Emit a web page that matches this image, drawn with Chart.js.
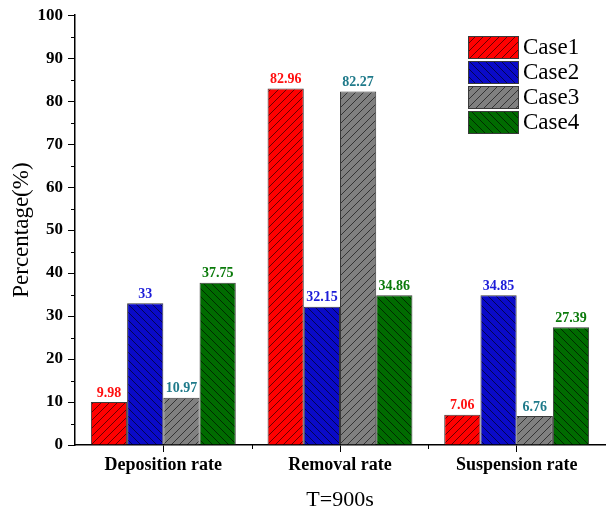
<!DOCTYPE html>
<html>
<head>
<meta charset="utf-8">
<script src="https://cdn.jsdelivr.net/npm/chart.js@4/dist/chart.umd.min.js"></script>
<style>
  html, body { margin: 0; padding: 0; background: #fff; }
  #wrap { width: 607px; height: 513px; }
</style>
</head>
<body>
<div id="wrap"><canvas id="c" width="607" height="513"></canvas></div>
<script>
// Categories, series and tick values
const categories = ['Deposition rate', 'Removal rate', 'Suspension rate'];
const seriesNames = ['Case1', 'Case2', 'Case3', 'Case4'];
const case1 = [9.98, 82.96, 7.06];
const case2 = [33, 32.15, 34.85];
const case3 = [10.97, 82.27, 6.76];
const case4 = [37.75, 34.86, 27.39];
const yTicks = [0, 10, 20, 30, 40, 50, 60, 70, 80, 90, 100];

const fillColors = ['#ff0000', '#0a0ac8', '#808080', '#006b00'];
const labelColors = ['#ff1010', '#1c1cd8', '#1f7a8a', '#0a7a0a'];
const hatchDirs = ['/', '\\', '/', '\\'];

const SERIF = "'Liberation Serif', 'Times New Roman', serif";

// Diagonal hatch fill for each series
function hatch(bg, dir) {
  const s = 8;
  const c = document.createElement('canvas');
  c.width = s; c.height = s;
  const g = c.getContext('2d');
  g.fillStyle = bg;
  g.fillRect(0, 0, s, s);
  g.strokeStyle = 'rgba(0,0,0,0.75)';
  g.lineWidth = 0.8;
  g.beginPath();
  if (dir === '/') {
    g.moveTo(0, s); g.lineTo(s, 0);
    g.moveTo(-1, 1); g.lineTo(1, -1);
    g.moveTo(s - 1, s + 1); g.lineTo(s + 1, s - 1);
  } else {
    g.moveTo(0, 0); g.lineTo(s, s);
    g.moveTo(-1, s - 1); g.lineTo(1, s + 1);
    g.moveTo(s - 1, -1); g.lineTo(s + 1, 1);
  }
  g.stroke();
  return document.getElementById('c').getContext('2d').createPattern(c, 'repeat');
}

const values = [case1, case2, case3, case4];
const datasets = seriesNames.map((name, i) => ({
  label: name,
  data: values[i],
  backgroundColor: hatch(fillColors[i], hatchDirs[i]),
  borderColor: '#3a3a3a',
  borderWidth: 1,
  barPercentage: 1.0,
  categoryPercentage: 0.82,
  labelColor: labelColors[i]
}));

// Value labels above bars, minor ticks and the in-plot legend
const extras = {
  id: 'extras',
  afterDatasetsDraw(chart) {
    const ctx = chart.ctx;
    ctx.save();
    ctx.font = 'bold 14px ' + SERIF;
    ctx.textAlign = 'center';
    ctx.textBaseline = 'bottom';
    chart.data.datasets.forEach((ds, i) => {
      const meta = chart.getDatasetMeta(i);
      meta.data.forEach((bar, j) => {
        ctx.fillStyle = ds.labelColor;
        ctx.fillText(String(ds.data[j]), bar.x, bar.y - 2);
      });
    });
    ctx.restore();
  },
  afterDraw(chart) {
    const ctx = chart.ctx;
    const y = chart.scales.y, x = chart.scales.x;
    const area = chart.chartArea;
    ctx.save();
    ctx.strokeStyle = '#000';
    ctx.lineWidth = 1;
    // minor y ticks at the half steps
    for (let v = 5; v < 100; v += 10) {
      const py = Math.round(y.getPixelForValue(v)) + 0.5;
      ctx.beginPath();
      ctx.moveTo(area.left - 4, py);
      ctx.lineTo(area.left, py);
      ctx.stroke();
    }
    // minor x ticks at category boundaries
    for (let k = 1; k < categories.length; k++) {
      const px = Math.round((x.getPixelForValue(k - 1) + x.getPixelForValue(k)) / 2) + 0.5;
      ctx.beginPath();
      ctx.moveTo(px, area.bottom);
      ctx.lineTo(px, area.bottom + 4);
      ctx.stroke();
    }
    // legend
    const lx = 468, ly = 36, bw = 50, bh = 22, gap = 25;
    chart.data.datasets.forEach((ds, i) => {
      const top = ly + i * gap;
      ctx.fillStyle = ds.backgroundColor;
      ctx.fillRect(lx, top, bw, bh);
      ctx.strokeStyle = '#3a3a3a';
      ctx.lineWidth = 1;
      ctx.strokeRect(lx + 0.5, top + 0.5, bw, bh);
      ctx.fillStyle = '#000';
      ctx.font = '23px ' + SERIF;
      ctx.textAlign = 'left';
      ctx.textBaseline = 'middle';
      ctx.fillText(ds.label, lx + bw + 5, top + bh / 2 + 1);
    });
    ctx.restore();
  }
};

new Chart(document.getElementById('c'), {
  type: 'bar',
  data: { labels: categories, datasets },
  options: {
    responsive: false,
    devicePixelRatio: 1,
    animation: false,
    layout: { padding: { top: 15, right: 2, left: 0, bottom: 0 } },
    plugins: { legend: { display: false }, tooltip: { enabled: false } },
    scales: {
      x: {
        grid: { display: true, drawOnChartArea: false, offset: false, tickLength: 7, color: '#000', lineWidth: 1 },
        border: { display: true, color: '#000', width: 1.5 },
        ticks: { color: '#000', font: { family: SERIF, size: 18, weight: 'bold' }, padding: 3, maxRotation: 0 },
        title: { display: true, text: 'T=900s', color: '#000', font: { family: SERIF, size: 22 }, padding: { top: 4, bottom: 0 } },
        afterFit(scale) { scale.height = 68; }
      },
      y: {
        min: 0, max: 100,
        afterBuildTicks(scale) { scale.ticks = yTicks.map(v => ({ value: v })); },
        grid: { display: true, drawOnChartArea: false, tickLength: 7, color: '#000', lineWidth: 1 },
        border: { display: true, color: '#000', width: 1.5 },
        ticks: { color: '#000', font: { family: SERIF, size: 17, weight: 'bold' }, padding: 5 },
        title: { display: true, text: 'Percentage(%)', color: '#000', font: { family: SERIF, size: 23 }, padding: { top: 8, bottom: 0 } },
        afterFit(scale) { scale.width = 75; }
      }
    }
  },
  plugins: [extras]
});
</script>
</body>
</html>
